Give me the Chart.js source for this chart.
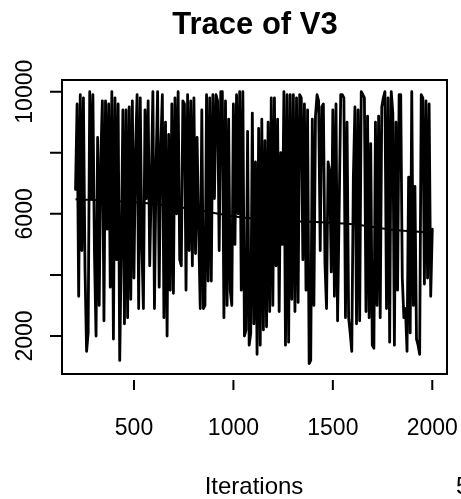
<!DOCTYPE html>
<html>
<head>
<meta charset="utf-8">
<script src="https://cdn.jsdelivr.net/npm/chart.js@4.4.1/dist/chart.umd.min.js"></script>
<style>
  html, body { margin: 0; padding: 0; background: #fff; }
  #wrap { width: 461px; height: 499px; }
</style>
</head>
<body>
<div id="wrap"><canvas id="trace"></canvas></div>
<script>
// trace of V3 left to right (evenly spaced iterations)
const traceValues = [
  6800, 9600, 3300, 9900, 4800, 9800, 4200, 1500, 2100, 10000, 6500, 9900, 4700, 2000, 8500, 3000,
  7800, 9700, 2500, 9700, 5500, 9600, 3600, 10000, 1900, 9800, 4500, 9600, 1200, 4900, 9400, 2400, 9400,
  2600, 9500, 3200, 9700, 3900, 8000, 9900, 2900, 9800, 5000, 2900, 9400, 6500, 9700, 4300, 7000,
  10000, 2900, 7500, 10000, 3600, 8200, 9900, 2600, 9000, 2000, 8600, 3500, 9600, 3400, 9800, 6000,
  10000, 4500, 4300, 9700, 9600, 3500, 9900, 4800, 9700, 4300,
  9800, 4700, 8500, 5500, 2900, 9400, 2900, 3000, 9900, 3800, 9800, 3800, 9900, 6500, 9900, 9700,
  4800, 10000, 10000, 2600, 9700, 3000, 9100, 3500, 3000, 9600, 5000, 9900, 6000, 10000, 3500, 10000,
  2000, 2200, 8700, 1700, 2100, 9300, 2400, 7700, 1400,
  8800, 1700, 9100, 2200, 8400, 2300, 9000, 2800, 9800, 3000, 9800, 4300, 9100, 2800, 8000, 5000,
  10000, 1700, 9900, 1800, 9900, 3200, 9900, 2800, 9800, 3100, 9900, 9800, 4500, 9600, 3500, 9400,
  1100, 1200, 9100, 3000, 9200, 9900, 9700, 4800, 9500,
  9600, 4400, 2900, 7700, 7400, 4100, 9400, 3300, 9600, 2500, 6100, 9900, 9900, 9800, 2600, 9000,
  2600, 2100, 1500, 7200, 9500, 2400, 9400, 2500, 10000, 9900, 9800, 2800, 9200, 2600, 8300, 1700,
  1600, 9000, 3000, 9200, 2600, 9500, 9800, 10000, 2900,
  9800, 1800, 10000, 9300, 1700, 9000, 3500, 9900, 9900, 3900, 2600, 2900, 1500, 7200, 2100, 10000,
  3000, 6900, 1900, 1700, 1400, 9900, 9800, 3700, 9700, 3900, 9600, 3300, 5500
];
const firstIter = 206;
const lastIter = 2000;

// smoothed line through the trace
const smoothIter = [206, 400, 600, 800, 1000, 1200, 1400, 1600, 1800, 2000];
const smoothValues = [6480, 6420, 6330, 6150, 5920, 5790, 5740, 5660, 5480, 5380];

const xTicks = [500, 1000, 1500, 2000];
const yTicks = [2000, 4000, 6000, 8000, 10000];
const yTickLabels = [2000, 6000, 10000];

const step = (lastIter - firstIter) / (traceValues.length - 1);
const traceData = traceValues.map((v, i) => ({ x: firstIter + i * step, y: v }));
const smoothData = smoothIter.map((it, i) => ({ x: it, y: smoothValues[i] }));

const FONT = '"Liberation Sans", Arial, Helvetica, sans-serif';

// R style frame, ticks and labels
const frame = {
  id: 'frame',
  afterDatasetsDraw(chart) {
    const { ctx, chartArea: a, scales: { x, y } } = chart;
    ctx.save();
    ctx.strokeStyle = '#000';
    ctx.lineWidth = 2;
    ctx.strokeRect(a.left, a.top, a.right - a.left, a.bottom - a.top);

    ctx.beginPath();
    yTicks.forEach(v => {
      const py = y.getPixelForValue(v);
      ctx.moveTo(a.left - 12, py);
      ctx.lineTo(a.left, py);
    });
    xTicks.forEach(v => {
      const px = x.getPixelForValue(v);
      ctx.moveTo(px, a.bottom + 6);
      ctx.lineTo(px, a.bottom + 16);
    });
    ctx.stroke();

    ctx.fillStyle = '#000';
    ctx.font = '23px ' + FONT;
    ctx.textAlign = 'center';
    ctx.textBaseline = 'alphabetic';
    xTicks.forEach(v => ctx.fillText(String(v), x.getPixelForValue(v), 435));
    yTickLabels.forEach(v => {
      ctx.save();
      ctx.translate(32, y.getPixelForValue(v));
      ctx.rotate(-Math.PI / 2);
      ctx.fillText(String(v), 0, 0);
      ctx.restore();
    });

    ctx.font = '24px ' + FONT;
    ctx.fillText('Iterations', 254, 494);
    ctx.textAlign = 'left';
    ctx.fillText('5', 456, 494);

    ctx.textAlign = 'center';
    ctx.font = 'bold 31px ' + FONT;
    ctx.fillText('Trace of V3', 255, 34);
    ctx.restore();
  }
};

new Chart(document.getElementById('trace'), {
  type: 'line',
  data: {
    datasets: [
      {
        data: traceData, borderColor: '#000', borderWidth: 2.8, pointRadius: 0, tension: 0, fill: false,
        borderJoinStyle: 'round', borderCapStyle: 'round'
      },
      { data: smoothData, borderColor: '#000', borderWidth: 2, pointRadius: 0, cubicInterpolationMode: 'monotone', fill: false }
    ]
  },
  options: {
    responsive: true,
    maintainAspectRatio: false,
    animation: false,
    events: [],
    layout: { padding: { left: 62, top: 80, right: 14, bottom: 125 } },
    plugins: { legend: { display: false }, tooltip: { enabled: false } },
    scales: {
      x: { type: 'linear', min: 138, max: 2074, display: false },
      y: { type: 'linear', min: 756, max: 10383, display: false }
    }
  },
  plugins: [frame]
});
</script>
</body>
</html>
